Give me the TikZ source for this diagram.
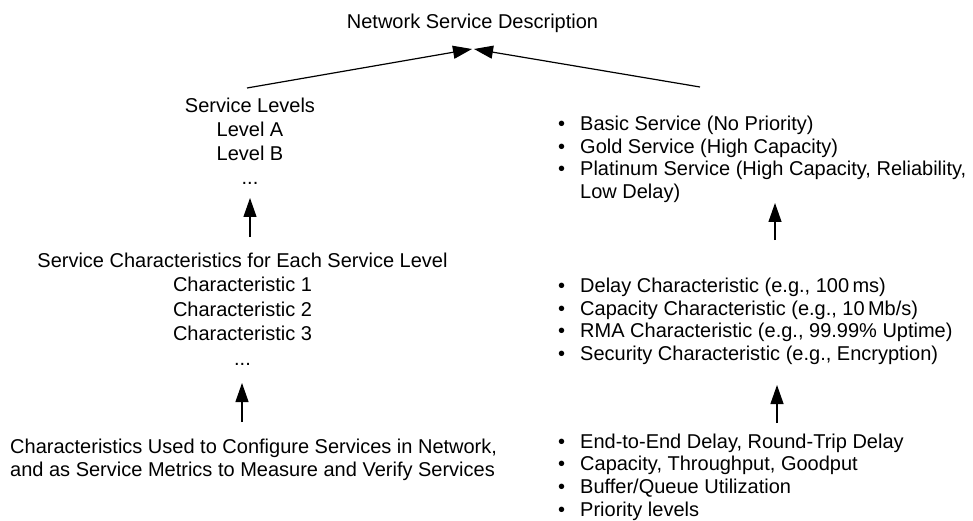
\documentclass[tikz,border=0pt]{standalone}
\usepackage{fontspec}
\setmainfont{Liberation Sans}
\usetikzlibrary{arrows.meta}
\newcommand\bitem{\makebox[22pt][l]{•}}
\begin{document}
\begin{tikzpicture}[x=1pt,y=-1pt,
  txt/.style={inner sep=0pt, font=\fontsize{20}{24}\selectfont},
  lst/.style={inner sep=0pt, align=left, anchor=base west, font=\fontsize{20}{22.6}\selectfont},
  arr/.style={line width=1.2pt, -{Triangle[length=19pt,width=13pt]}}]
\useasboundingbox (0,0) rectangle (973,521);
% title
\node[txt, anchor=base] (title) at (472.5,29) {Network Service Description};
% left column (anchor base = baseline of the last line)
\node[txt, anchor=base, align=center] (levels) at (250,185)
  {Service Levels\\Level A\\Level B\\...};
\node[txt, anchor=base, align=center, font=\fontsize{20}{24.5}\selectfont] (chars) at (242.5,365)
  {Service Characteristics for Each Service Level\\Characteristic 1\\Characteristic 2\\Characteristic 3\\...};
\node[txt, anchor=base west, align=left, font=\fontsize{20}{23}\selectfont] (metrics) at (10,476)
  {Characteristics Used to Configure Services in Network,\\and as Service Metrics to Measure and Verify Services};
% right column
\node[lst] (services) at (558,198.5)
  {\bitem Basic Service (No Priority)\\
   \bitem Gold Service (High Capacity)\\
   \bitem Platinum Service (High Capacity, Reliability,\\
   \hspace*{22pt}Low Delay)};
\node[lst] (charlist) at (558,360.5)
  {\bitem Delay Characteristic (e.g., 100\,ms)\\
   \bitem Capacity Characteristic (e.g., 10\,Mb/s)\\
   \bitem RMA Characteristic (e.g., 99.99\% Uptime)\\
   \bitem Security Characteristic (e.g., Encryption)};
\node[lst] (metlist) at (558,516)
  {\bitem End-to-End Delay, Round-Trip Delay\\
   \bitem Capacity, Throughput, Goodput\\
   \bitem Buffer/Queue Utilization\\
   \bitem Priority levels};
% connector end points
\coordinate (tl) at (472,49);
\coordinate (tr) at (474,49);
\coordinate (ls) at (247,88);
\coordinate (rs) at (700,87);
\coordinate (a1s) at (250,237);
\coordinate (a1e) at (250,198);
\coordinate (a2s) at (242,422);
\coordinate (a2e) at (242,383);
\coordinate (a3s) at (775,240);
\coordinate (a3e) at (775,203);
\coordinate (a4s) at (777,423);
\coordinate (a4e) at (777,385);
% connectors
\draw[arr] (ls) -- (tl);
\draw[arr] (rs) -- (tr);
\draw[arr] (a1s) -- (a1e);
\draw[arr] (a2s) -- (a2e);
\draw[arr] (a3s) -- (a3e);
\draw[arr] (a4s) -- (a4e);
\end{tikzpicture}
\end{document}
